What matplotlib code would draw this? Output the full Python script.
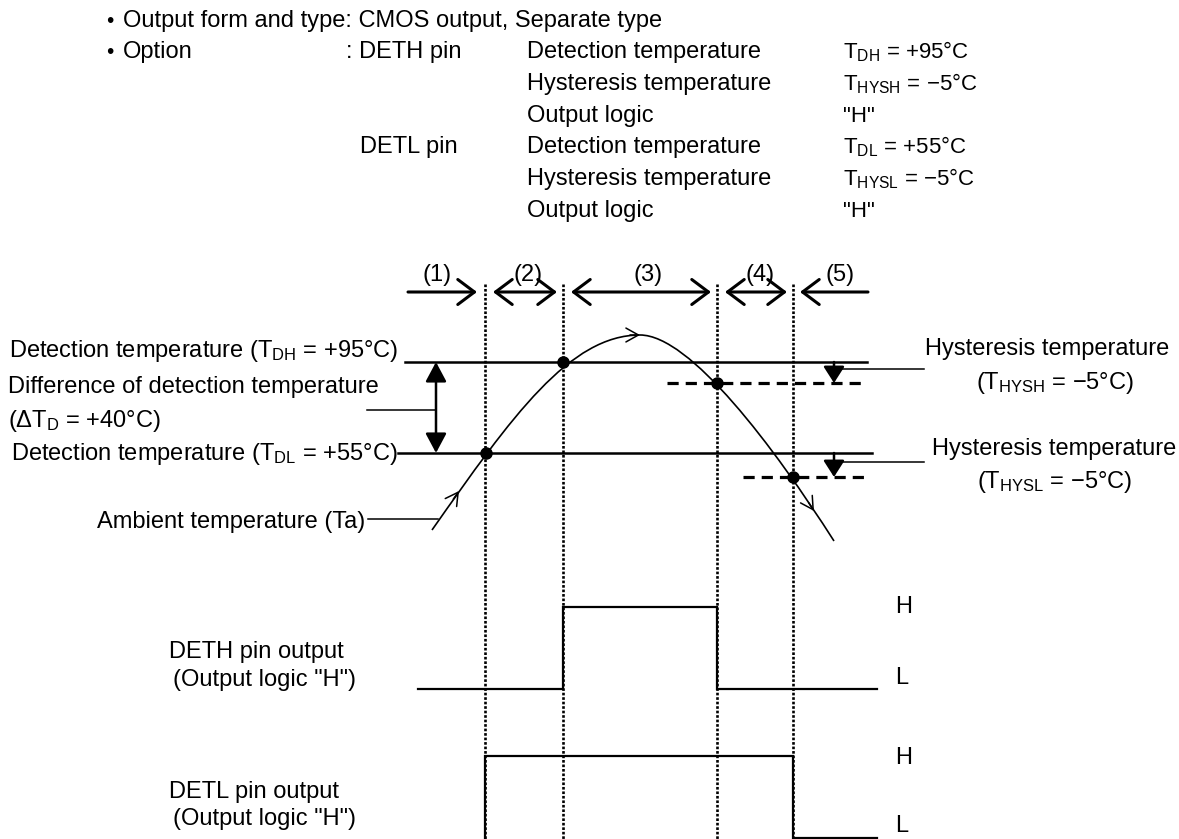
import matplotlib
matplotlib.use("Agg")
from matplotlib import pyplot as plt
from matplotlib.path import Path
from matplotlib.patches import PathPatch

plt.rcParams['font.family'] = ['Liberation Sans', 'DejaVu Sans']
plt.rcParams['mathtext.fontset'] = 'custom'
plt.rcParams['mathtext.rm'] = 'Liberation Sans'
plt.rcParams['mathtext.it'] = 'Liberation Sans'

# --------------------------------------------------------------------------------------------------------------------
# diagram data (page pixel units, y grows downwards)

W, H = 1179, 839

switch_x = [485, 563, 717, 793]                 # dotted boundaries between regions
region_labels = ['(1)', '(2)', '(3)', '(4)', '(5)']
region_label_x = [437, 528, 648, 760, 840]
region_left, region_right = 408, 868

t_dh_y, t_hysh_y = 362, 383                     # detection / release level, DETH
t_dl_y, t_hysl_y = 453, 477                     # detection / release level, DETL

# ambient temperature curve (cubic bezier anchors / controls)
ta_vertices = [(432, 530), (512, 416), (570, 335), (640, 335), (690, 335), (774, 447), (834, 541)]
ta_marks = [(486, t_dl_y), (563, t_dh_y), (717, t_hysh_y), (793, t_hysl_y)]
ta_chevrons = [((459, 491), (1.0, -1.43)), ((640, 335), (1.0, 0.0)), ((814, 511), (1.0, 1.56))]

# outputs: level per region (1)..(5), 0 = L, 1 = H
deth_states = [0, 0, 1, 0, 0]
detl_states = [None, 1, 1, 1, 0]
deth_levels = {0: 689, 1: 607}
detl_levels = {0: 838, 1: 756}
signal_left, signal_right = 418, 877

spec_rows = [
    ("Detection temperature", r"T$_\mathregular{DH}$ = +95°C"),
    ("Hysteresis temperature", r"T$_\mathregular{HYSH}$ = −5°C"),
    ("Output logic", '"H"'),
    ("Detection temperature", r"T$_\mathregular{DL}$ = +55°C"),
    ("Hysteresis temperature", r"T$_\mathregular{HYSL}$ = −5°C"),
    ("Output logic", '"H"'),
]
spec_baselines = [58, 90, 122, 153, 185, 217]

FS = 17

# --------------------------------------------------------------------------------------------------------------------

fig = plt.figure(figsize=(W / 100, H / 100), dpi=100)
ax = fig.add_axes([0, 0, 1, 1])
ax.set_xlim(0, W)
ax.set_ylim(H, 0)
ax.axis('off')


def text(x, y, s, **kw):
    kw.setdefault('va', 'baseline')
    kw.setdefault('fontsize', FS)
    ax.text(x, y, s, color='black', **kw)


def arrow(p_from, p_to, style, lw, scale):
    ax.annotate("", xy=p_to, xytext=p_from,
                arrowprops=dict(arrowstyle=style, lw=lw, color='black', mutation_scale=scale,
                                shrinkA=0, shrinkB=0))


# header...
text(106, 27, "•", fontsize=15)
text(123, 27, "Output form and type: CMOS output, Separate type")
text(106, 58, "•", fontsize=15)
text(123, 58, "Option")
text(346, 58, ": DETH pin")
text(360, 153, "DETL pin")
for (name, value), yb in zip(spec_rows, spec_baselines):
    text(527, yb, name)
    text(843, yb, value, fontsize=16)

# region arrows...
arrow((region_left, 292), (switch_x[0] - 8, 292), '->,head_length=0.6,head_width=0.45', 2.2, 20)
for a, b in zip(switch_x[:-1], switch_x[1:]):
    arrow((a + 8, 292), (b - 6, 292), '<->,head_length=0.6,head_width=0.45', 2.2, 20)
arrow((region_right, 292), (switch_x[-1] + 7, 292), '->,head_length=0.6,head_width=0.45', 2.2, 20)
for x, s in zip(region_label_x, region_labels):
    ax.text(x, 275, s, fontsize=FS, ha='center', va='center')

# dotted boundaries...
for x in switch_x:
    ax.plot([x, x], [284, H + 2], color='black', lw=1.9, linestyle=(0, (1.0, 0.7)), solid_capstyle='butt')

# threshold lines...
ax.plot([405, 867], [t_dh_y, t_dh_y], color='black', lw=1.8)
ax.plot([398, 872], [t_dl_y, t_dl_y], color='black', lw=1.8)
ax.plot([667, 867], [t_hysh_y, t_hysh_y], color='black', lw=2.3, linestyle=(0, (3.5, 2.2)))
ax.plot([743, 867], [t_hysl_y, t_hysl_y], color='black', lw=2.3, linestyle=(0, (3.5, 2.2)))

# difference of detection temperature...
arrow((436, t_dh_y), (436, t_dl_y), '<|-|>,head_length=0.6,head_width=0.32', 1.8, 20)
ax.plot([367, 436], [410, 410], color='black', lw=1.1)

# hysteresis arrows + leaders...
arrow((834, t_dh_y), (834, t_hysh_y), '-|>,head_length=0.5,head_width=0.32', 1.8, 20)
arrow((834, t_dl_y), (834, t_hysl_y), '-|>,head_length=0.5,head_width=0.32', 1.8, 20)
ax.plot([834, 924], [369, 369], color='black', lw=1.1)
ax.plot([834, 924], [462, 462], color='black', lw=1.1)

# ambient temperature curve...
codes = [Path.MOVETO] + [Path.CURVE4] * (len(ta_vertices) - 1)
ax.add_patch(PathPatch(Path(ta_vertices, codes), facecolor='none', edgecolor='black', lw=1.2))
for (x, y), (dx, dy) in ta_chevrons:
    n = (dx ** 2 + dy ** 2) ** 0.5
    arrow((x - 10 * dx / n, y - 10 * dy / n), (x, y), '->,head_length=0.45,head_width=0.25', 1.1, 20)
ax.plot([p[0] for p in ta_marks], [p[1] for p in ta_marks], 'o', color='black', ms=8)
ax.plot([368, 438], [519, 519], color='black', lw=1.1)

# left labels...
text(9, 357, r"Detection temperature (T$_\mathregular{DH}$ = +95°C)")
text(8, 393, "Difference of detection temperature")
text(8, 427, r"($\mathregular{\Delta}$T$_\mathregular{D}$ = +40°C)")
text(11, 460, r"Detection temperature (T$_\mathregular{DL}$ = +55°C)")
text(365, 528, "Ambient temperature (Ta)", ha='right')

# right labels...
text(925, 355, "Hysteresis temperature")
text(1055, 389, r"(T$_\mathregular{HYSH}$ = −5°C)", ha='center')
text(932, 455, "Hysteresis temperature")
text(1055, 488, r"(T$_\mathregular{HYSL}$ = −5°C)", ha='center')

# output signals...
bounds = [signal_left] + switch_x + [signal_right]


def step(states, levels):
    xs, ys = [], []
    for i, s in enumerate(states):
        if s is None:
            continue
        if not xs:
            xs.append(bounds[i])
            ys.append(levels[s] if i == 0 else H + 2)
        xs += [bounds[i], bounds[i + 1]]
        ys += [levels[s], levels[s]]
    ax.plot(xs, ys, color='black', lw=1.6, solid_joinstyle='miter')


step(deth_states, deth_levels)
step(detl_states, detl_levels)

text(169, 658, "DETH pin output")
text(173, 686, '(Output logic "H")')
text(169, 798, "DETL pin output")
text(173, 825, '(Output logic "H")')

for y, s in [(607, 'H'), (678, 'L'), (758, 'H'), (826, 'L')]:
    ax.text(895, y, s, fontsize=FS, ha='left', va='center')

fig.savefig('out.png', dpi=100)
